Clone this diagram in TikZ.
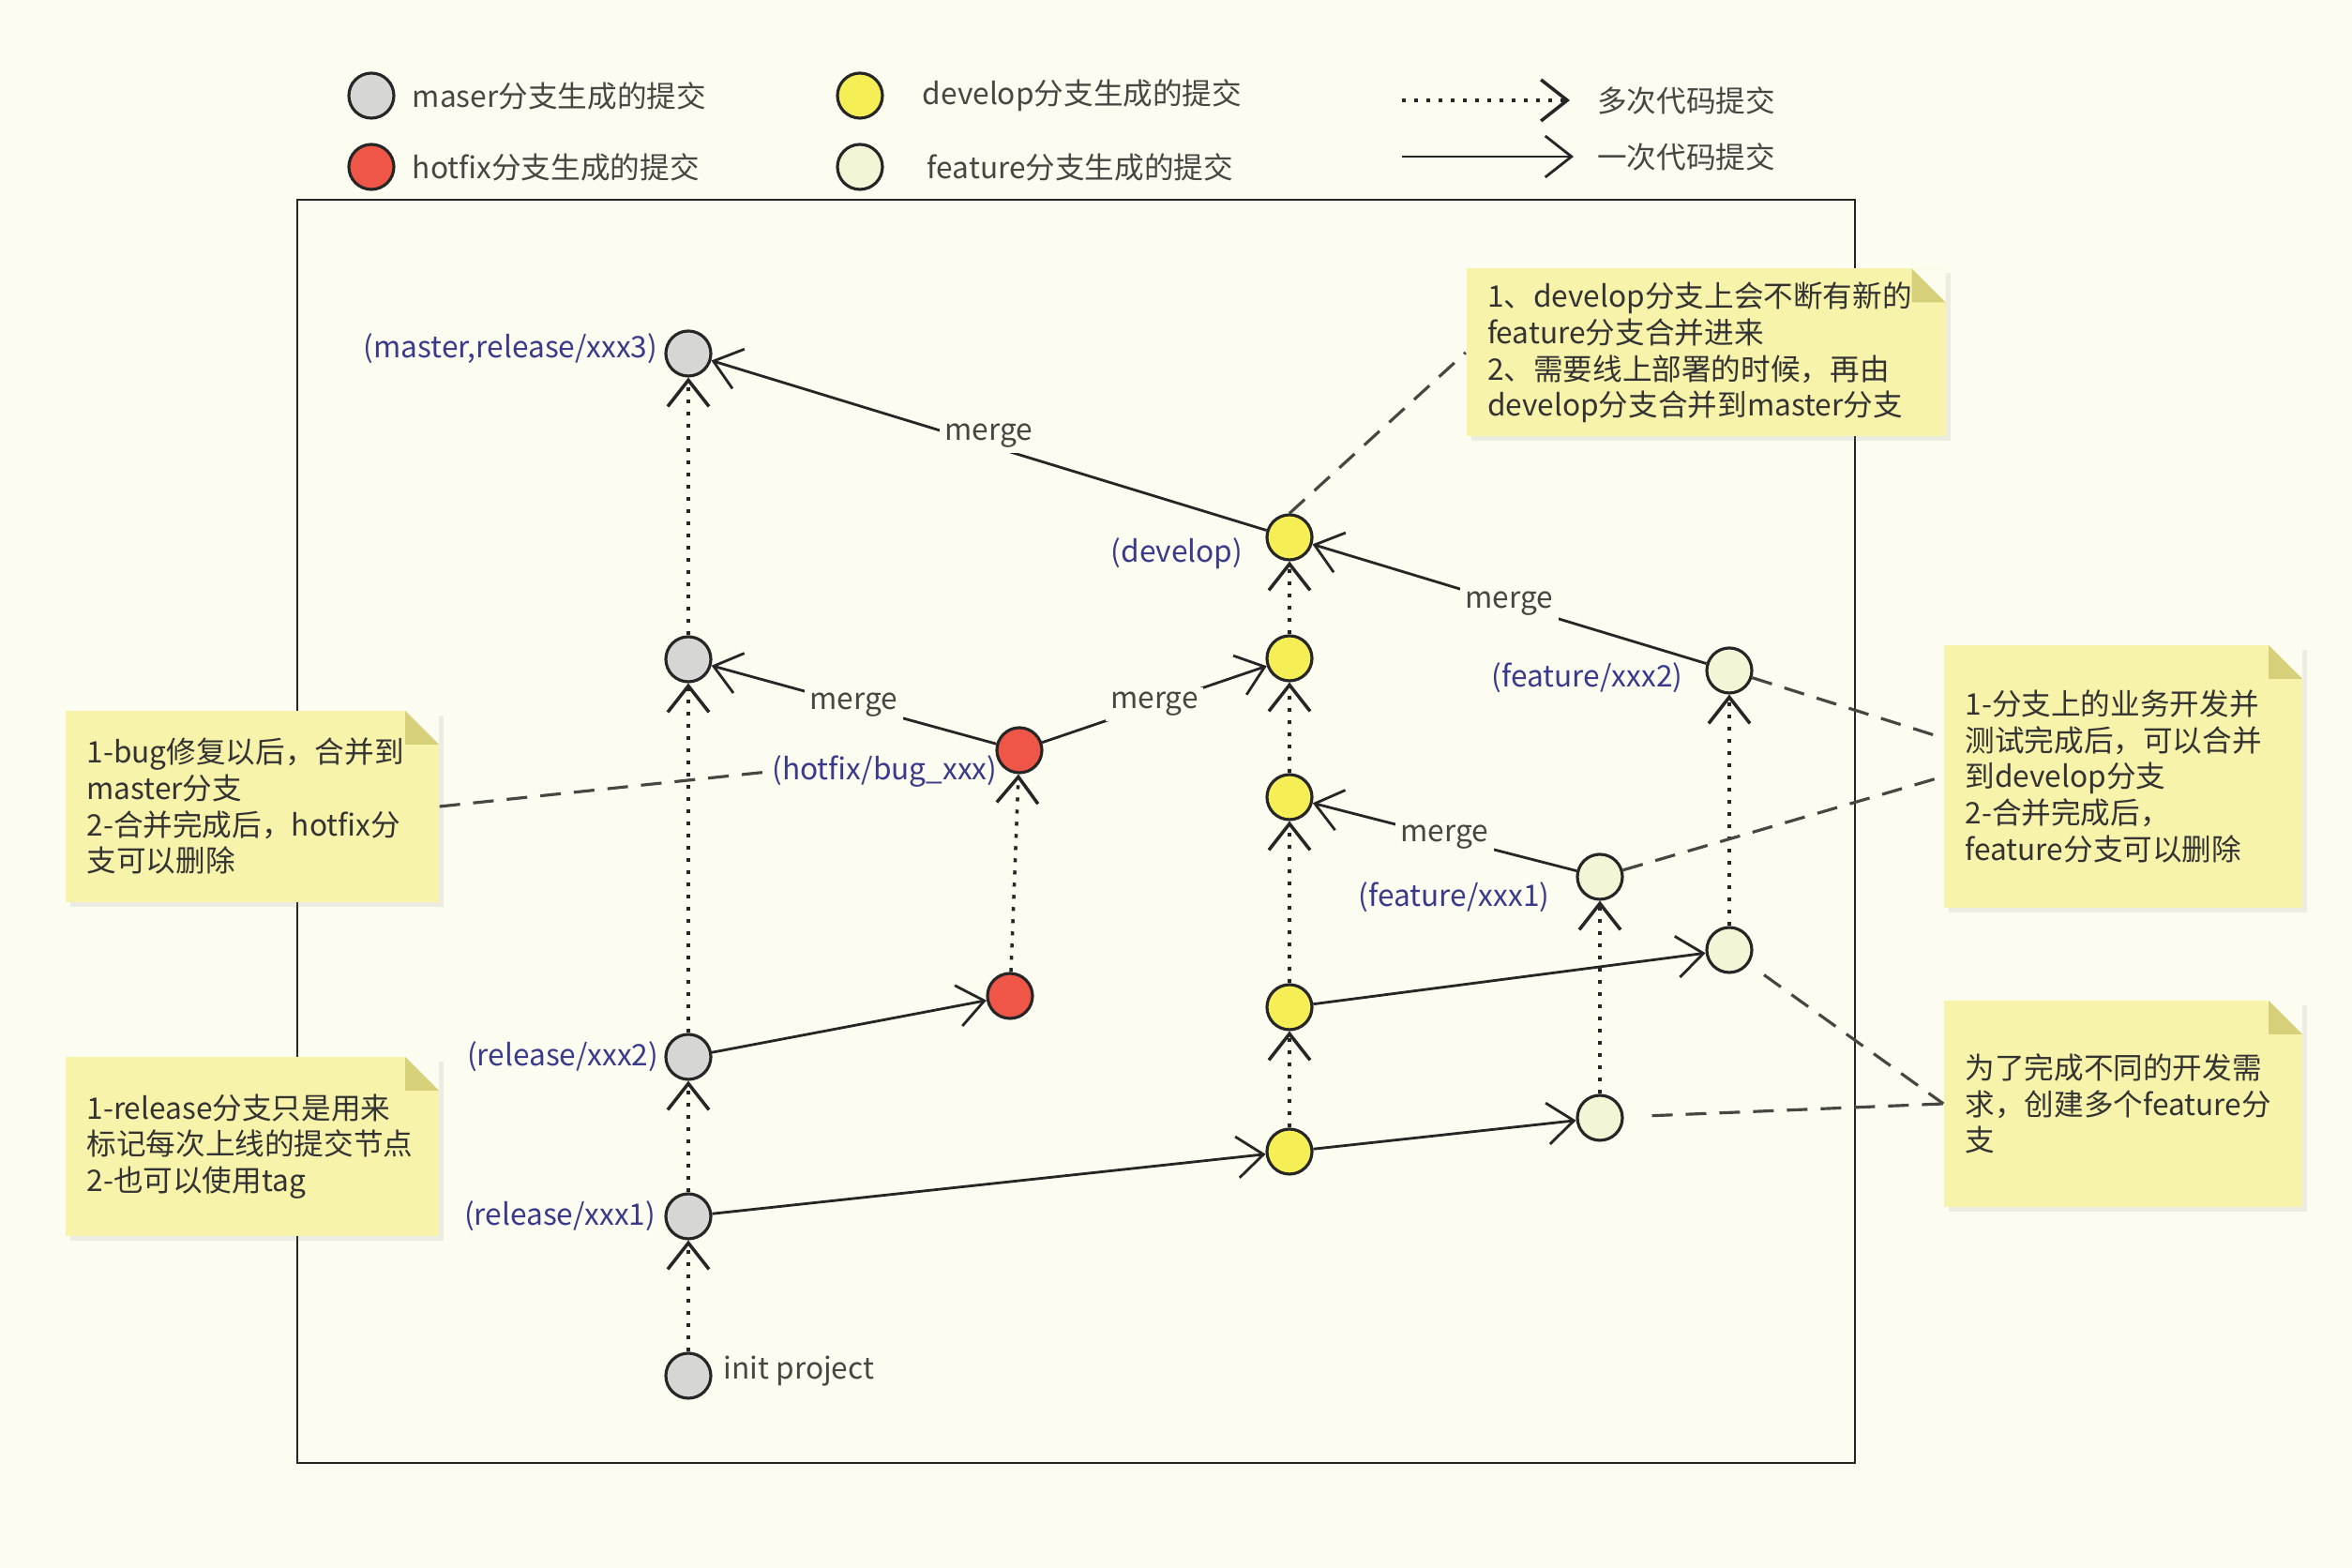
\documentclass[tikz,border=0pt]{standalone}
\usepackage{fontspec}
\setmainfont{Noto Sans CJK SC}
\usetikzlibrary{positioning,arrows.meta,shadows}
\definecolor{pagebg}{RGB}{252,252,241}
\definecolor{mgray}{RGB}{214,214,212}
\definecolor{hred}{RGB}{240,86,72}
\definecolor{dyellow}{RGB}{245,238,84}
\definecolor{fpale}{RGB}{244,245,214}
\definecolor{notefill}{RGB}{247,243,170}
\definecolor{notefold}{RGB}{214,208,122}
\definecolor{lblblue}{RGB}{58,58,138}
\definecolor{inkgray}{RGB}{70,70,66}
\tikzset{
  commit/.style={circle, draw=black!85, line width=0.9pt, minimum size=0.48cm, inner sep=0pt},
  mcommit/.style={commit, fill=mgray},
  hcommit/.style={commit, fill=hred},
  dcommit/.style={commit, fill=dyellow},
  fcommit/.style={commit, fill=fpale},
  onearrow/.style={-{Straight Barb[length=2.8mm, width=4.4mm]}, line width=0.8pt, draw=black!85},
  manyarrow/.style={onearrow, line width=1pt, dash pattern=on 1.2pt off 2.5pt},
  mergelbl/.style={fill=pagebg, text=inkgray, inner sep=1.5pt},
  branchlbl/.style={text=lblblue, inner sep=1pt},
  legendtxt/.style={text=inkgray, inner sep=1pt},
  notelink/.style={draw=inkgray, line width=0.9pt, dash pattern=on 2.2mm off 1.4mm},
  stickynote/.style={fill=notefill, text=black!80, align=left, inner xsep=0.225cm, inner ysep=0pt,
    drop shadow={shadow xshift=0.05cm, shadow yshift=-0.05cm, opacity=0.12},
    path picture={
      \fill[pagebg] ([xshift=-3.6mm]path picture bounding box.north east) -- (path picture bounding box.north east) -- ([yshift=-3.6mm]path picture bounding box.north east) -- cycle;
      \fill[notefold] ([xshift=-3.6mm]path picture bounding box.north east) -- ([yshift=-3.6mm]path picture bounding box.north east) -- ([shift={(-3.6mm,-3.6mm)}]path picture bounding box.north east) -- cycle;
    }}
}

\begin{document}
\begin{tikzpicture}[every node/.style={font=\small}]
  \fill[pagebg] (0,0) rectangle (25.08,16.72);
  \useasboundingbox (0,0) rectangle (25.08,16.72);
  \draw[line width=0.8pt, black!85] (3.17,1.12) rectangle (19.78,14.59);

  \node[mcommit] (lgm) at (3.96,15.70) {};
  \node[legendtxt, right=0.14cm of lgm] {maser分支生成的提交};
  \node[hcommit] (lgh) at (3.96,14.94) {};
  \node[legendtxt, right=0.14cm of lgh] {hotfix分支生成的提交};
  \node[dcommit] (lgd) at (9.17,15.70) {};
  \node[legendtxt, right=0.37cm of lgd] {develop分支生成的提交};
  \node[fcommit] (lgf) at (9.17,14.94) {};
  \node[legendtxt, right=0.42cm of lgf] {feature分支生成的提交};
  \coordinate (lgmany0) at (14.95,15.65);
  \coordinate (lgmany1) at (16.74,15.65);
  \draw[manyarrow] (lgmany0) -- (lgmany1);
  \node[legendtxt, right=0.25cm of lgmany1] {多次代码提交};
  \coordinate (lgone0) at (14.95,15.05);
  \coordinate (lgone1) at (16.78,15.05);
  \draw[onearrow] (lgone0) -- (lgone1);
  \node[legendtxt, right=0.21cm of lgone1] {一次代码提交};

  \node[mcommit] (m3) at (7.34,12.95) {};
  \node[mcommit] (m2) at (7.34,9.69) {};
  \node[mcommit] (r2) at (7.34,5.45) {};
  \node[mcommit] (r1) at (7.34,3.75) {};
  \node[mcommit] (init) at (7.34,2.05) {};
  \node[hcommit] (h1) at (10.87,8.72) {};
  \node[hcommit] (h0) at (10.77,6.10) {};
  \node[dcommit] (dev) at (13.75,10.99) {};
  \node[dcommit] (d3) at (13.75,9.70) {};
  \node[dcommit] (d2) at (13.75,8.22) {};
  \node[dcommit] (d1) at (13.75,5.98) {};
  \node[dcommit] (d0) at (13.75,4.44) {};
  \node[fcommit] (f2) at (18.44,9.57) {};
  \node[fcommit] (f1) at (17.06,7.37) {};
  \node[fcommit] (f2a) at (18.44,6.59) {};
  \node[fcommit] (f1a) at (17.06,4.80) {};

  \node[branchlbl, left=0.03cm of m3, yshift=0.05cm] {(master,release/xxx3)};
  \node[branchlbl, left=0.02cm of r2] {(release/xxx2)};
  \node[branchlbl, left=0.05cm of r1] {(release/xxx1)};
  \node[legendtxt, right=0.08cm of init, yshift=0.05cm] {init project};
  \node[branchlbl, left=0.2cm of dev, yshift=-0.17cm] {(develop)};
  \node[branchlbl, left=0.2cm of f2, yshift=-0.08cm] {(feature/xxx2)};
  \node[branchlbl, left=0.24cm of f1, yshift=-0.22cm] {(feature/xxx1)};
  \node[branchlbl, left=-0.06cm of h1, yshift=-0.23cm] (hflbl) {(hotfix/bug\_xxx)};

  \draw[manyarrow] (init) -- (r1);
  \draw[manyarrow] (r1) -- (r2);
  \draw[manyarrow] (r2) -- (m2);
  \draw[manyarrow] (m2) -- (m3);
  \draw[manyarrow] (h0) -- (h1);
  \draw[manyarrow] (d0) -- (d1);
  \draw[manyarrow] (d1) -- (d2);
  \draw[manyarrow] (d2) -- (d3);
  \draw[manyarrow] (d3) -- (dev);
  \draw[manyarrow] (f1a) -- (f1);
  \draw[manyarrow] (f2a) -- (f2);
  \draw[onearrow] (r1) -- (d0);
  \draw[onearrow] (d0) -- (f1a);
  \draw[onearrow] (d1) -- (f2a);
  \draw[onearrow] (r2) -- (h0);
  \draw[onearrow] (dev) -- node[mergelbl, yshift=0.1cm]{merge} (m3);
  \draw[onearrow] (h1) -- node[mergelbl]{merge} (m2);
  \draw[onearrow] (h1) -- node[mergelbl]{merge} (d3);
  \draw[onearrow] (f2) -- node[mergelbl]{merge} (dev);
  \draw[onearrow] (f1) -- node[mergelbl]{merge} (d2);

  \node[stickynote, text width=4.66cm, minimum height=1.79cm] (note1) at (18.19,12.96) {1、develop分支上会不断有新的\\feature分支合并进来\\2、需要线上部署的时候，再由\\develop分支合并到master分支};
  \node[stickynote, text width=3.53cm, minimum height=2.04cm] (note2) at (2.69,8.12) {1-bug修复以后，合并到\\master分支\\2-合并完成后，hotfix分\\支可以删除};
  \node[stickynote, text width=3.53cm, minimum height=1.91cm] (note3) at (2.69,4.495) {1-release分支只是用来\\标记每次上线的提交节点\\2-也可以使用tag};
  \node[stickynote, text width=3.37cm, minimum height=2.80cm] (note4) at (22.64,8.44) {1-分支上的业务开发并\\测试完成后，可以合并\\到develop分支\\2-合并完成后，\\feature分支可以删除};
  \node[stickynote, text width=3.37cm, minimum height=2.20cm] (note5) at (22.64,4.95) {为了完成不同的开发需\\求，创建多个feature分\\支};

  \draw[notelink] (dev.north) -- (note1.west);
  \draw[notelink] (note2.east) -- (hflbl.west);
  \draw[notelink] (f2) -- ([yshift=0.41cm]note4.west);
  \draw[notelink] (f1) -- (note4.west);
  \draw[notelink, shorten <=0.2cm] (f2a) -- (note5.west);
  \draw[notelink, shorten <=0.3cm] (f1a) -- (note5.west);
\end{tikzpicture}
\end{document}
